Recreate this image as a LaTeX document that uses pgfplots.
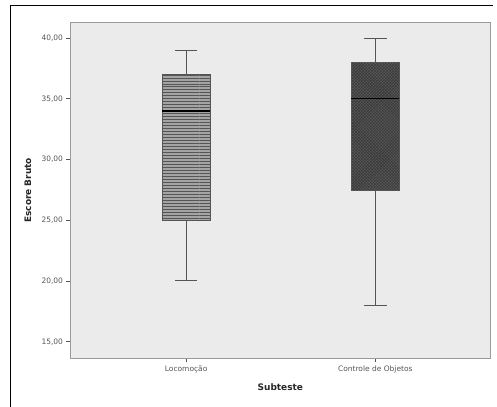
\documentclass[border=0pt]{standalone}
\usepackage{fontspec}
\setmainfont{DejaVu Sans}
\usepackage{pgfplots}
\pgfplotsset{compat=1.18}
\usepgfplotslibrary{statistics}
\usetikzlibrary{patterns}
\definecolor{bgc}{HTML}{EBEBEB}
\definecolor{axc}{HTML}{9A9A9A}
\definecolor{tkc}{HTML}{555555}
\definecolor{edgec}{HTML}{555555}
\definecolor{boxa}{HTML}{A4A4A4}
\definecolor{boxastripe}{HTML}{555555}
\definecolor{boxb}{HTML}{585858}
\definecolor{boxbstripe}{HTML}{363636}
\begin{document}
\begin{tikzpicture}
\useasboundingbox (0,0) rectangle (497bp,407bp);
\draw[black, line width=0.9pt] (10bp,0bp) -- (10bp,402bp) -- (493bp,402bp);
\begin{axis}[
  at={(70bp,48.3bp)}, anchor=south west,
  scale only axis, width=420.7bp, height=336.7bp,
  xmin=0.386, xmax=2.61, ymin=13.6, ymax=41.32,
  axis background/.style={fill=bgc},
  axis line style={axc, line width=0.9pt},
  xtick={1,2}, xticklabels={Locomoção, Controle de Objetos},
  ytick={15,20,25,30,35,40},
  tick align=outside, major tick length=3.5bp,
  xtick pos=bottom, ytick pos=left,
  tick style={tkc, line width=0.7pt},
  yticklabel style={/pgf/number format/fixed, /pgf/number format/fixed zerofill, /pgf/number format/precision=2, /pgf/number format/use comma, /pgf/number format/assume math mode=true},
  tick label style={font=\fontsize{7.5}{9}\selectfont, text=tkc},
  xlabel={Subteste}, ylabel={Escore Bruto},
  label style={font=\bfseries\fontsize{9}{11}\selectfont, text=black!85},
  xlabel style={at={(axis description cs:0.5,-0.0855)}, anchor=center},
  ylabel style={at={(axis description cs:-0.0998,0.5)}, anchor=center},
  boxplot/draw direction=y,
]
\addplot+[draw=edgec, line width=0.6pt, mark=none,
  boxplot/box extend=0.255, boxplot/whisker extend=0.12,
  boxplot/every box/.style={fill=boxa, postaction={pattern=horizontal lines, pattern color=boxastripe}},
  boxplot/every median/.style={black, line width=1.3pt},
  boxplot/every whisker/.style={edgec, line width=1pt},
  boxplot prepared={draw position=1, lower whisker=20, lower quartile=25, median=34, upper quartile=37, upper whisker=39},
] table[row sep=\\, y index=0] {5\\};
\addplot+[draw=edgec, line width=0.6pt, mark=none,
  boxplot/box extend=0.255, boxplot/whisker extend=0.12,
  boxplot/every box/.style={fill=boxb, postaction={pattern=crosshatch, pattern color=boxbstripe}},
  boxplot/every median/.style={black, line width=1.3pt},
  boxplot/every whisker/.style={edgec, line width=1pt},
  boxplot prepared={draw position=2, lower whisker=18, lower quartile=27.5, median=35, upper quartile=38, upper whisker=40},
] table[row sep=\\, y index=0] {5\\};
\end{axis}
\end{tikzpicture}
\end{document}
